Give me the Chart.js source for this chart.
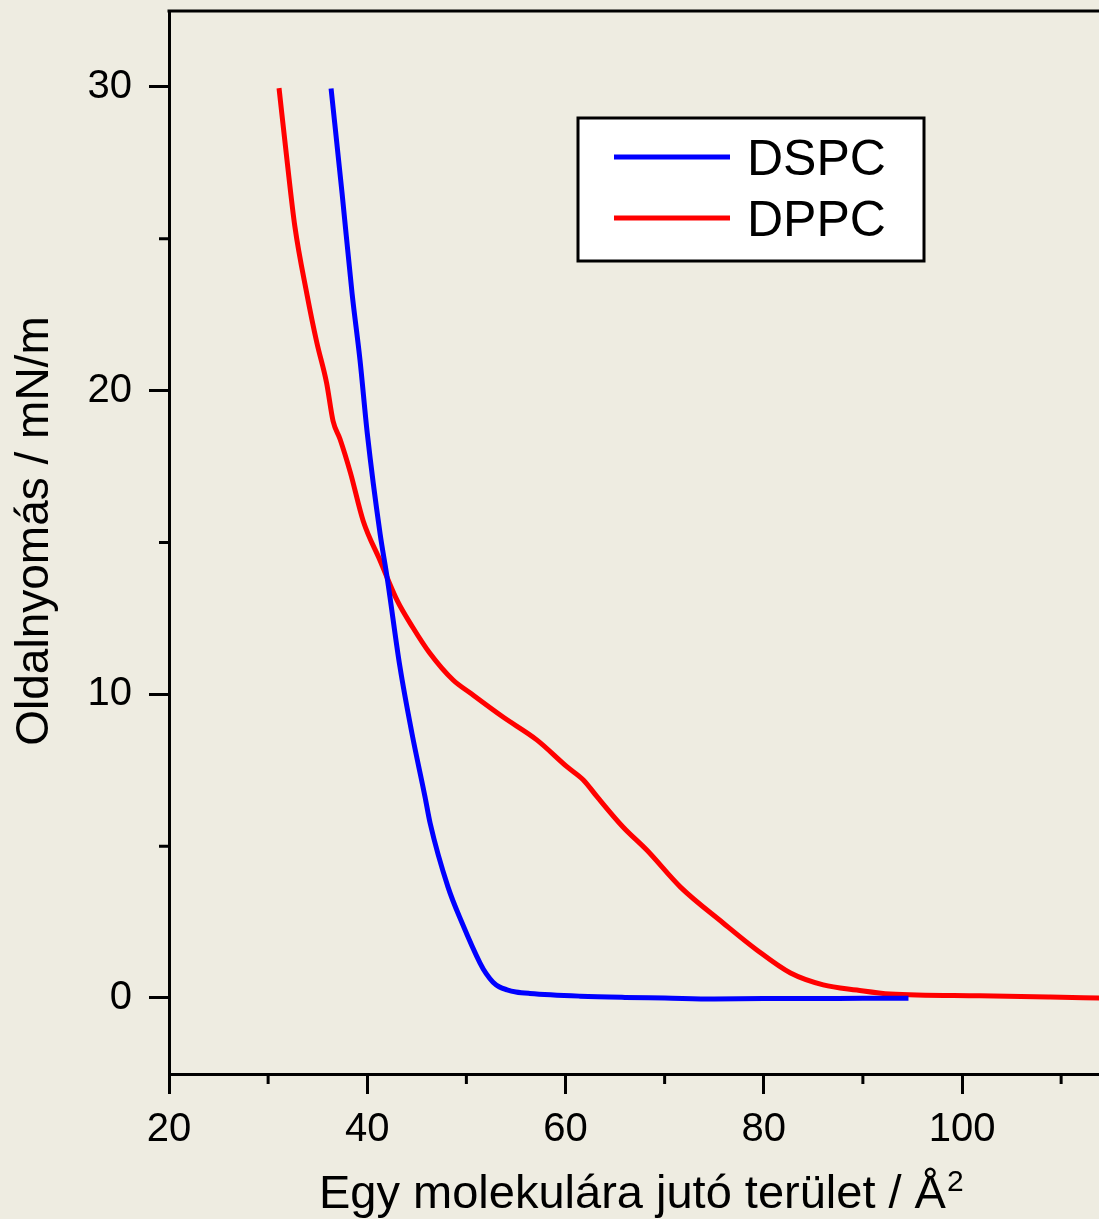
<!DOCTYPE html>
<html>
<head>
<meta charset="utf-8">
<script src="https://cdn.jsdelivr.net/npm/chart.js@4.4.1/dist/chart.umd.min.js"></script>
<style>
  html, body { margin: 0; padding: 0; background: #EEECE1; }
  canvas { display: block; }
</style>
</head>
<body>
<canvas id="isotherm" width="1099" height="1219"></canvas>
<script>
// izoterma adatok (leolvasva)
const dspc_area = [36.35, 37.46, 38.47, 39.27, 40.0, 41.29, 42.0, 43.3, 44.5, 45.83, 46.34, 48.15, 49.57, 51.38, 52.0, 52.69, 53.3, 54.1, 55.0, 56.4, 61.5, 66, 70, 75, 80, 85, 90, 94.6]
const dspc_pressure = [29.95, 26.5, 23.2, 21.0, 18.6, 15.3, 13.86, 10.9, 8.73, 6.62, 5.76, 3.65, 2.47, 1.15, 0.8, 0.52, 0.37, 0.27, 0.2, 0.15, 0.06, 0.02, 0.0, -0.03, -0.02, -0.02, -0.01, -0.01]

const dppc_area = [31.1, 31.9, 32.7, 33.9, 34.9, 35.9, 36.55, 37.26, 38.3, 39.6, 41.3, 43.0, 44.6, 46.3, 48.66, 50.4, 53.7, 57.1, 60.2, 61.8, 63.2, 65.8, 68.2, 71.6, 75.9, 79.3, 82.7, 86.0, 89.4, 92.76, 101.8, 108.9, 113.9]
const dppc_pressure = [29.96, 27.6, 25.4, 23.2, 21.6, 20.25, 19.0, 18.4, 17.3, 15.7, 14.4, 13.1, 12.2, 11.36, 10.47, 10.04, 9.25, 8.5, 7.6, 7.18, 6.62, 5.63, 4.87, 3.65, 2.47, 1.58, 0.82, 0.43, 0.26, 0.13, 0.07, 0.03, 0.0]

const x_ticks = [20, 30, 40, 50, 60, 70, 80, 90, 100, 110]
const x_labels = [20, 40, 60, 80, 100]
const y_ticks = [0, 5, 10, 15, 20, 25, 30]
const y_labels = [0, 10, 20, 30]

const FONT = '"Liberation Sans", Arial, sans-serif'
Chart.defaults.font.family = FONT
Chart.defaults.color = '#000'

function points(xs, ys) {
    return xs.map((x, i) => ({ x: x, y: ys[i] }))
}

// rövid (minor) osztások + felső keret
const frame = {
    id: 'frame',
    afterDraw(chart) {
        const ctx = chart.ctx
        const area = chart.chartArea
        const sx = chart.scales.x
        const sy = chart.scales.y
        ctx.save()
        ctx.strokeStyle = '#000'
        ctx.lineWidth = 3
        ctx.beginPath()
        ctx.moveTo(area.left - 1.5, area.top)
        ctx.lineTo(area.right, area.top)
        for (const v of x_ticks) {
            if (x_labels.includes(v)) continue
            const px = sx.getPixelForValue(v)
            ctx.moveTo(px, area.bottom)
            ctx.lineTo(px, area.bottom + 10)
        }
        for (const v of y_ticks) {
            if (y_labels.includes(v)) continue
            const py = sy.getPixelForValue(v)
            ctx.moveTo(area.left, py)
            ctx.lineTo(area.left - 10, py)
        }
        ctx.stroke()
        ctx.restore()
    }
}

const legend_box = {
    id: 'legend_box',
    afterDraw(chart) {
        const ctx = chart.ctx
        ctx.save()
        ctx.fillStyle = '#fff'
        ctx.fillRect(578, 118, 346, 143)
        ctx.strokeStyle = '#000'
        ctx.lineWidth = 3
        ctx.strokeRect(578, 118, 346, 143)
        const rows = [157, 218]
        chart.data.datasets.forEach((ds, i) => {
            ctx.strokeStyle = ds.borderColor
            ctx.lineWidth = 5
            ctx.beginPath()
            ctx.moveTo(614, rows[i])
            ctx.lineTo(730, rows[i])
            ctx.stroke()
            ctx.fillStyle = '#000'
            ctx.font = '50px ' + FONT
            ctx.textBaseline = 'alphabetic'
            ctx.fillText(ds.label, 747, rows[i] + 18)
        })
        ctx.restore()
    }
}

// tengelyfeliratok (a felső index miatt kézzel)
const axis_titles = {
    id: 'axis_titles',
    afterDraw(chart) {
        const ctx = chart.ctx
        const main = 'Egy molekulára jutó terület / Å'
        ctx.save()
        ctx.fillStyle = '#000'
        ctx.textBaseline = 'alphabetic'
        ctx.font = '47px ' + FONT
        const w = ctx.measureText(main).width
        ctx.fillText(main, 319, 1208)
        ctx.font = '30px ' + FONT
        ctx.fillText('2', 319 + w + 1, 1191)

        ctx.translate(48, 531)
        ctx.rotate(-Math.PI / 2)
        ctx.textAlign = 'center'
        ctx.font = '46px ' + FONT
        ctx.fillText('Oldalnyomás / mN/m', 0, 0)
        ctx.restore()
    }
}

const ctx = document.getElementById('isotherm').getContext('2d')
const isotherm_chart = new Chart(ctx, {
    type: 'line',
    data: {
        datasets: [{
            label: 'DSPC',
            data: points(dspc_area, dspc_pressure),
            borderColor: '#0000FF',
            borderWidth: 5,
            pointRadius: 0,
            cubicInterpolationMode: 'monotone'
        }, {
            label: 'DPPC',
            data: points(dppc_area, dppc_pressure),
            borderColor: '#FF0000',
            borderWidth: 5,
            pointRadius: 0,
            cubicInterpolationMode: 'monotone'
        }]
    },
    options: {
        responsive: false,
        animation: false,
        devicePixelRatio: 1,
        layout: { padding: { top: 11, right: 0, left: 0, bottom: 0 } },
        plugins: {
            legend: { display: false },
            tooltip: { enabled: false }
        },
        scales: {
            x: {
                type: 'linear',
                min: 20,
                max: 113.82,
                afterBuildTicks: s => { s.ticks = x_ticks.map(v => ({ value: v })) },
                afterFit: s => { s.height = 145; s.paddingLeft = 0; s.paddingRight = 0 },
                border: { color: '#000', width: 3 },
                grid: {
                    drawOnChartArea: false,
                    tickLength: 20,
                    tickWidth: 3,
                    tickColor: c => (c.tick && x_labels.includes(c.tick.value)) ? '#000' : 'rgba(0,0,0,0)'
                },
                ticks: {
                    autoSkip: false,
                    maxRotation: 0,
                    padding: 12,
                    font: { size: 40 },
                    callback: v => x_labels.includes(v) ? String(v) : ''
                }
            },
            y: {
                type: 'linear',
                min: -2.503,
                max: 32.5,
                afterBuildTicks: s => { s.ticks = y_ticks.map(v => ({ value: v })) },
                afterFit: s => { s.width = 169; s.paddingTop = 0; s.paddingBottom = 0 },
                border: { color: '#000', width: 3 },
                grid: {
                    drawOnChartArea: false,
                    tickLength: 20,
                    tickWidth: 3,
                    tickColor: c => (c.tick && y_labels.includes(c.tick.value)) ? '#000' : 'rgba(0,0,0,0)'
                },
                ticks: {
                    autoSkip: false,
                    padding: 17,
                    font: { size: 40 },
                    callback: v => y_labels.includes(v) ? String(v) : ''
                }
            }
        }
    },
    plugins: [frame, legend_box, axis_titles]
})
</script>
</body>
</html>
